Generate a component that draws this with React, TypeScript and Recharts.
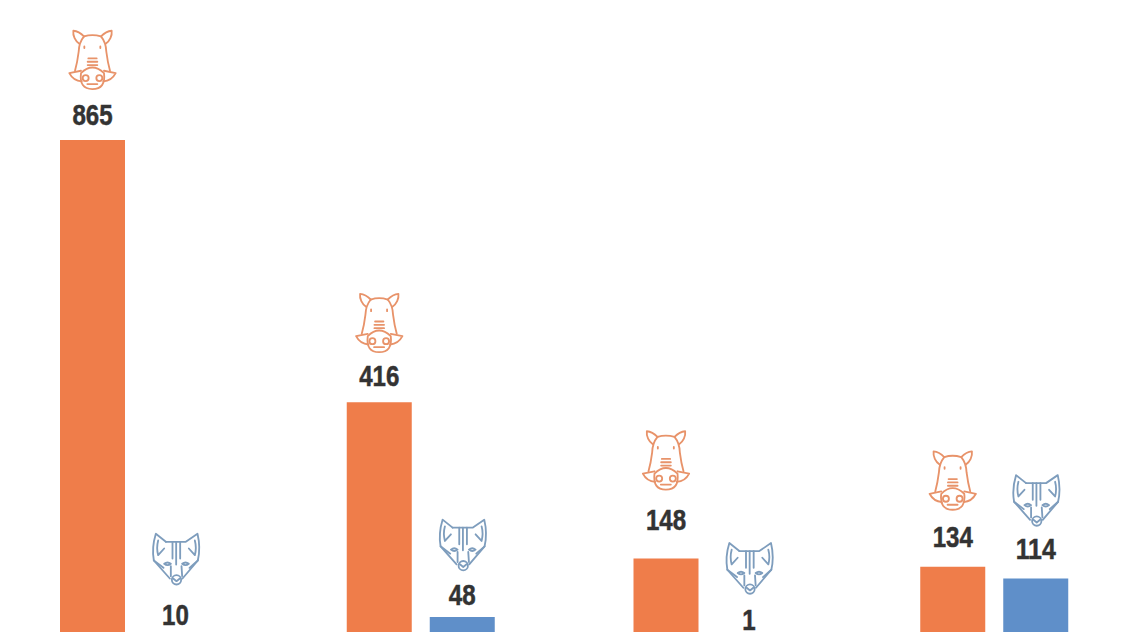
import React from "react";
import { BarChart, Bar, XAxis, YAxis, LabelList } from "recharts";

const categories = ["Group 1", "Group 2", "Group 3", "Group 4"];
const boarValues = [865, 416, 148, 134];
const foxValues = [10, 48, 1, 114];

// hand placed label nudges, the source spaces them unevenly
const boarTextLift = [25, 26, 39, 30];
const foxTextLift = [24, 22, 24, 29];
const boarIconLift = [56, 54, 60, 57];
const foxIconLift = [58, 52, 54, 51];

const ORANGE = "#EF7D4A";
const BLUE = "#5F8FC9";
const BOAR_LINE = "#E8936A";
const FOX_LINE = "#7E9DBD";

const data = categories.map((name, i) => ({ name, boar: boarValues[i], fox: foxValues[i] }));

const BoarIcon = ({ cx, cy }: { cx: number; cy: number }) => (
  <g
    transform={`translate(${cx},${cy}) scale(0.3333) translate(-157.5,-130)`}
    fill="none"
    stroke={BOAR_LINE}
    strokeWidth={5.5}
    strokeLinecap="round"
    strokeLinejoin="round"
  >
    <path d="M132 62 Q157 54 183 62 Q198 80 199 108 Q203 140 210 165" />
    <path d="M132 62 Q117 80 116 108 Q112 140 105 165" />
    <path d="M132 62 C122 52 110 46 100 45 C98 60 106 76 118 84" />
    <path d="M183 62 C193 52 205 46 215 45 C217 60 209 76 197 84" />
    <path d="M123 172 Q157 138 192 172 Q198 220 157 220 Q117 220 123 172 Z" />
    <path d="M123 165 L88 172 Q100 195 125 197" />
    <path d="M192 165 L227 172 Q215 195 190 197" />
    <circle cx={137} cy={187} r={9} />
    <circle cx={178} cy={187} r={9} />
    <path d="M142 205 H172" />
    <path d="M145 128 H170 M143 138 H172 M143 148 H172" />
    <path d="M133 92 V97 M181 92 V97" />
  </g>
);

const FoxIcon = ({ cx, cy }: { cx: number; cy: number }) => (
  <g
    transform={`translate(${cx + 1},${cy}) scale(0.3333) translate(-147,-108)`}
    fill="none"
    stroke={FOX_LINE}
    strokeWidth={5.5}
    strokeLinecap="round"
    strokeLinejoin="round"
  >
    <path d="M115 62 H175 L210 38 Q220 80 211 118 L165 172" />
    <path d="M115 62 L85 38 Q72 80 79 118 L127 172" />
    <path d="M92 58 Q86 80 92 102 L110 82" />
    <path d="M202 58 Q208 80 202 102 L184 82" />
    <path d="M135 62 V112 M158 62 V112" />
    <path d="M146 62 V130" />
    <path d="M79 118 L108 140 M211 118 L186 140" />
    <path d="M110 128 Q120 120 130 128 Q120 136 110 128 Z" />
    <path d="M184 128 Q174 120 164 128 Q174 136 184 128 Z" />
    <path d="M130 135 L130 165 M162 135 L164 165" />
    <circle cx={147} cy={176} r={14} />
    <path d="M137 172 L147 180 L157 172" />
  </g>
);

const makeLabel = (kind: "boar" | "fox", textLift: number[], iconLift: number[]) => (props: any) => {
  const { x, y, width, value, index } = props;
  const cx = Number(x) + Number(width) / 2;
  const textCy = Number(y) - textLift[index];
  const digits = String(value).length;
  const Icon = kind === "boar" ? BoarIcon : FoxIcon;
  return (
    <g>
      <Icon cx={cx} cy={textCy - iconLift[index]} />
      <text
        x={cx}
        y={textCy + 10}
        textAnchor="middle"
        fontFamily="'Liberation Sans Narrow', 'Liberation Sans', sans-serif"
        fontWeight={700}
        fontSize={30}
        fill="#333333"
        stroke="#333333"
        strokeWidth={0.5}
        textLength={digits * 13.4}
        lengthAdjust="spacingAndGlyphs"
      >
        {value}
      </text>
    </g>
  );
};

export default function App() {
  return (
    <div style={{ position: "fixed", left: 0, top: 0, width: 1126, height: 632, overflow: "hidden", background: "#fff" }}>
      <div style={{ position: "absolute", left: -9, top: 0 }}>
        <BarChart
          width={1147}
          height={645}
          data={data}
          margin={{ top: 0, right: 0, bottom: 0, left: 0 }}
          barSize={65}
          barGap={18}
        >
          <XAxis dataKey="name" hide />
          <YAxis hide domain={[0, 1105]} />
          <Bar dataKey="boar" fill={ORANGE} isAnimationActive={false}>
            <LabelList dataKey="boar" content={makeLabel("boar", boarTextLift, boarIconLift)} />
          </Bar>
          <Bar dataKey="fox" fill={BLUE} isAnimationActive={false}>
            <LabelList dataKey="fox" content={makeLabel("fox", foxTextLift, foxIconLift)} />
          </Bar>
        </BarChart>
      </div>
    </div>
  );
}
